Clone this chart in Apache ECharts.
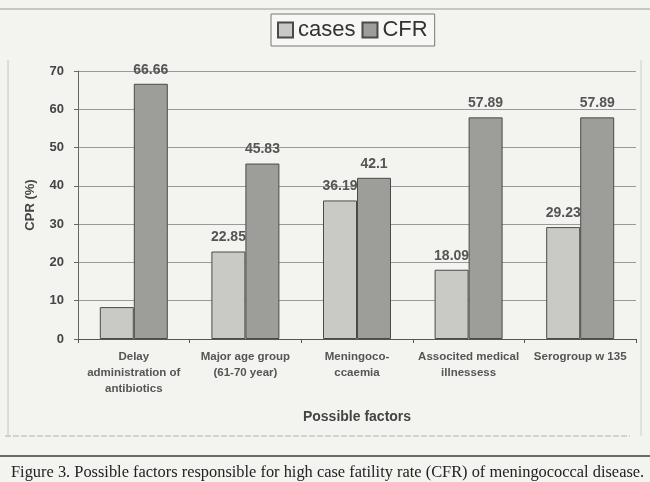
<!DOCTYPE html>
<html>
<head>
<meta charset="utf-8">
<script src="https://cdn.jsdelivr.net/npm/echarts@6/dist/echarts.min.js"></script>
<style>
  html, body { margin: 0; padding: 0; background: #f3f3f0; }
  #main { width: 650px; height: 482px; }
</style>
</head>
<body>
<div id="main"></div>
<script>
// data
var factors = [
  'Delay\nadministration of\nantibiotics',
  'Major age group\n(61-70 year)',
  'Meningoco-\nccaemia',
  'Associted medical\nillnessess',
  'Serogroup w 135'
];
var cases = [8.33, 22.85, 36.19, 18.09, 29.23];
var cfr = [66.66, 45.83, 42.1, 57.89, 57.89];
// first "cases" value has no label printed in the figure
var casesLabelShown = [false, true, true, true, true];

var chart = echarts.init(document.getElementById('main'));

var labelStyle = {
  show: true,
  position: 'top',
  distance: 7,
  color: '#555',
  fontFamily: 'Liberation Sans, Arial',
  fontWeight: 'bold',
  fontSize: 14
};

var option = {
  backgroundColor: '#f3f3f0',
  animation: false,
  title: {
    text: 'Figure 3. Possible factors responsible for high case fatility rate (CFR) of meningococcal disease.',
    left: 6,
    top: 460,
    textStyle: {
      fontFamily: 'Liberation Serif, Times New Roman, serif',
      fontWeight: 'normal',
      fontSize: 16.4,
      color: '#222'
    }
  },
  legend: {
    data: ['cases', 'CFR'],
    icon: 'rect',
    top: 14,
    left: 271,
    padding: [5, 7, 5, 6],
    borderColor: '#777',
    borderWidth: 1,
    backgroundColor: '#f7f7f5',
    itemWidth: 15,
    itemHeight: 15,
    itemGap: 6,
    textStyle: {
      fontFamily: 'Liberation Sans, Arial',
      fontSize: 22,
      color: '#333',
      padding: [0, 0, 0, 0]
    }
  },
  grid: {
    left: 78,
    right: 14,
    top: 71,
    bottom: 143
  },
  xAxis: {
    type: 'category',
    data: factors,
    name: 'Possible factors',
    nameLocation: 'middle',
    nameGap: 71,
    nameTextStyle: {
      fontFamily: 'Liberation Sans, Arial',
      fontWeight: 'bold',
      fontSize: 14,
      color: '#444'
    },
    axisLine: { lineStyle: { color: '#555' } },
    axisTick: { show: true, alignWithLabel: false, length: 4, lineStyle: { color: '#555' } },
    axisLabel: {
      interval: 0,
      margin: 10,
      lineHeight: 16,
      fontFamily: 'Liberation Sans, Arial',
      fontWeight: 'bold',
      fontSize: 11.5,
      color: '#555'
    }
  },
  yAxis: {
    type: 'value',
    min: 0,
    max: 70,
    interval: 10,
    name: 'CPR (%)',
    nameLocation: 'middle',
    nameGap: 41,
    nameTextStyle: {
      fontFamily: 'Liberation Sans, Arial',
      fontWeight: 'bold',
      fontSize: 13,
      color: '#444'
    },
    axisLine: { show: true, lineStyle: { color: '#666' } },
    axisTick: { show: true, length: 4, lineStyle: { color: '#666' } },
    axisLabel: {
      margin: 14,
      fontFamily: 'Liberation Sans, Arial',
      fontWeight: 'bold',
      fontSize: 13,
      color: '#444'
    },
    splitLine: { lineStyle: { color: '#9a9a98', width: 1 } }
  },
  series: [
    {
      name: 'cases',
      type: 'bar',
      barWidth: 34,
      barGap: '0%',
      itemStyle: { color: '#c9c9c6', borderColor: '#4a4a4a', borderWidth: 1 },
      data: cases.map(function (v, i) {
        return { value: v, label: { show: casesLabelShown[i] } };
      }),
      label: labelStyle
    },
    {
      name: 'CFR',
      type: 'bar',
      barWidth: 34,
      itemStyle: { color: '#9d9d9a', borderColor: '#4a4a4a', borderWidth: 1 },
      data: cfr,
      label: labelStyle
    }
  ],
  graphic: [
    { type: 'line', shape: { x1: 0, y1: 9, x2: 650, y2: 9 }, style: { stroke: '#9a9a9a', lineWidth: 1 } },
    { type: 'line', shape: { x1: 8, y1: 60, x2: 8, y2: 436 }, style: { stroke: '#c4c4c2', lineWidth: 1 } },
    { type: 'line', shape: { x1: 641, y1: 60, x2: 641, y2: 436 }, style: { stroke: '#cfcfcd', lineWidth: 1 } },
    { type: 'line', shape: { x1: 5, y1: 436, x2: 630, y2: 436 }, style: { stroke: '#b0b0ae', lineWidth: 1, lineDash: [6, 2] } },
    { type: 'line', shape: { x1: 0, y1: 456, x2: 650, y2: 456 }, style: { stroke: '#6a6a6a', lineWidth: 2 } }
  ]
};

chart.setOption(option);
</script>
</body>
</html>
